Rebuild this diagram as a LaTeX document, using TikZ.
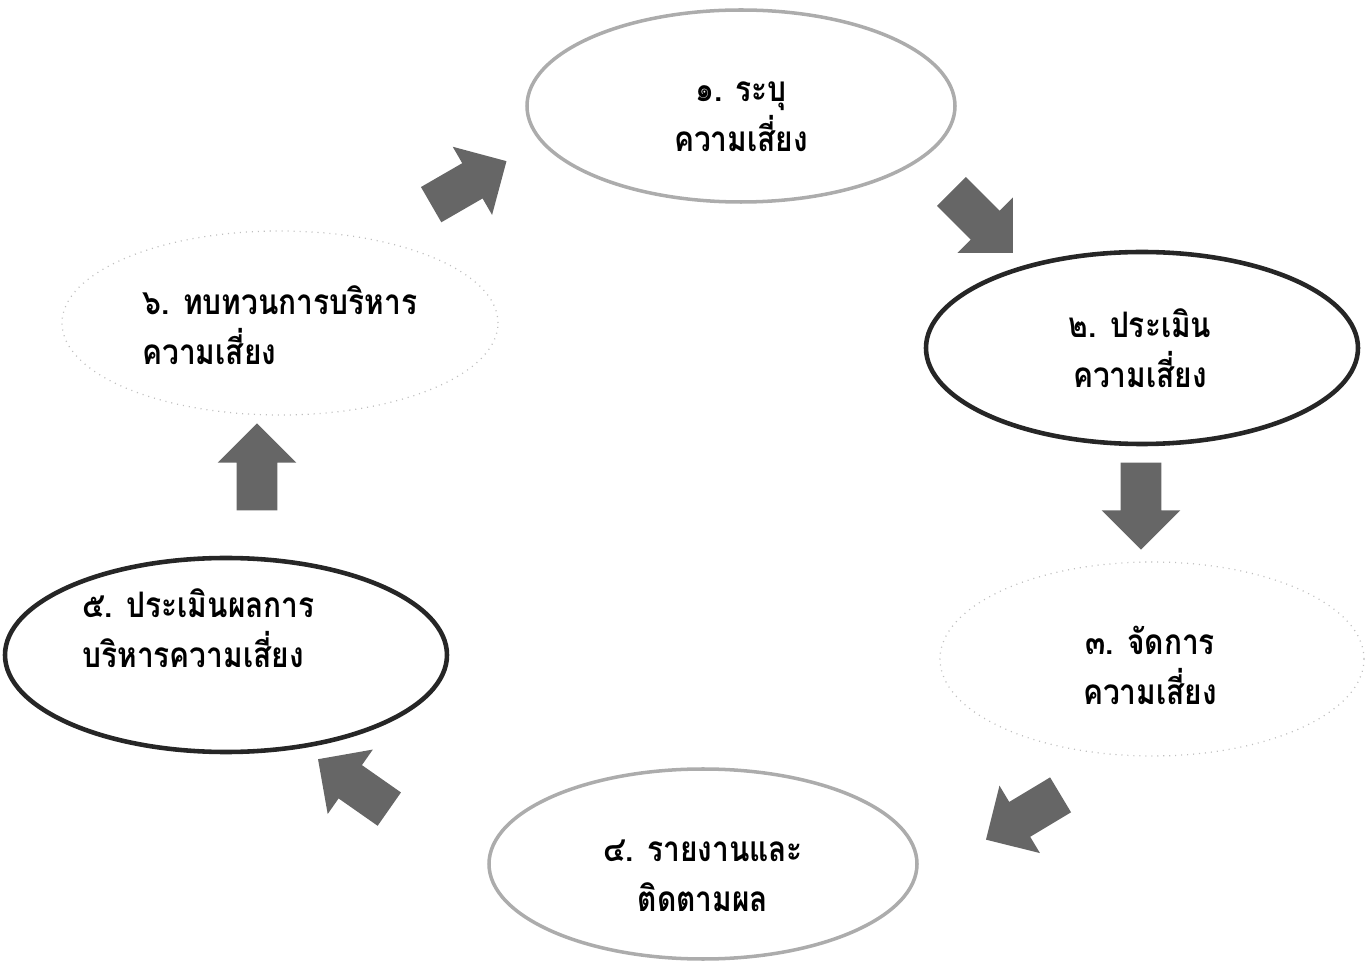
\documentclass[tikz,border=0pt]{standalone}
\usepackage{fontspec}
\newfontfamily\thaifont[Script=Thai, FakeStretch=0.85]{Loma}
\usetikzlibrary{shapes.geometric, shapes.arrows}

\tikzset{
  stepgrey/.style={ellipse, draw=gray!65, line width=2pt, inner sep=0pt},
  stepbold/.style={ellipse, draw=black!85, line width=2.6pt, inner sep=0pt},
  stepfaint/.style={ellipse, draw=gray!50, line width=0.7pt, dash pattern=on 0.6pt off 2.8pt, inner sep=0pt},
  steptext/.style={font=\thaifont\bfseries\fontsize{20}{28.5}\selectfont, inner sep=0pt},
  turnarrow/.style={single arrow, draw=none, fill=black!60, inner xsep=0pt, inner ysep=0.4cm,
    single arrow head extend=0.38cm, minimum height=1.74cm}
}

\begin{document}
\begin{tikzpicture}
    \useasboundingbox (0, 0) rectangle (27.38, 19.3);

    % the six steps
    \node[stepgrey, minimum width=8.56cm, minimum height=3.84cm] (s1) at (14.82, 17.18) {};
    \node[stepbold, minimum width=8.64cm, minimum height=3.84cm] (s2) at (22.84, 12.34) {};
    \node[stepfaint, minimum width=8.48cm, minimum height=3.88cm] (s3) at (23.04, 6.12) {};
    \node[stepgrey, minimum width=8.56cm, minimum height=3.8cm] (s4) at (14.06, 2.02) {};
    \node[stepbold, minimum width=8.84cm, minimum height=3.88cm] (s5) at (4.52, 6.2) {};
    \node[stepfaint, minimum width=8.72cm, minimum height=3.68cm] (s6) at (5.6, 12.84) {};

    \node[steptext, align=center] (t1) at (14.82, 16.96) {๑. ระบุ\\ความเสี่ยง};
    \node[steptext, align=center] (t2) at (22.8, 12.34) {๒. ประเมิน\\ความเสี่ยง};
    \node[steptext, align=center] (t3) at (23.0, 6.0) {๓. จัดการ\\ความเสี่ยง};
    \node[steptext, align=center] (t4) at (14.06, 1.78) {๔. รายงานและ\\ติดตามผล};
    \node[steptext, align=left, anchor=west] (t5) at (1.64, 6.74) {๕. ประเมินผลการ\\บริหารความเสี่ยง};
    \node[steptext, align=left, anchor=west] (t6) at (2.84, 12.8) {๖. ทบทวนการบริหาร\\ความเสี่ยง};

    % block arrows round the cycle
    \node[turnarrow, rotate=-45] (a12) at (19.5, 15.0) {};
    \node[turnarrow, rotate=-90] (a23) at (22.82, 9.38) {};
    \node[turnarrow, rotate=-149] (a34) at (20.64, 3.06) {};
    \node[turnarrow, rotate=145] (a45) at (7.24, 3.5) {};
    \node[turnarrow, rotate=90] (a56) at (5.14, 9.76) {};
    \node[turnarrow, rotate=30] (a61) at (9.2, 15.54) {};
\end{tikzpicture}
\end{document}
